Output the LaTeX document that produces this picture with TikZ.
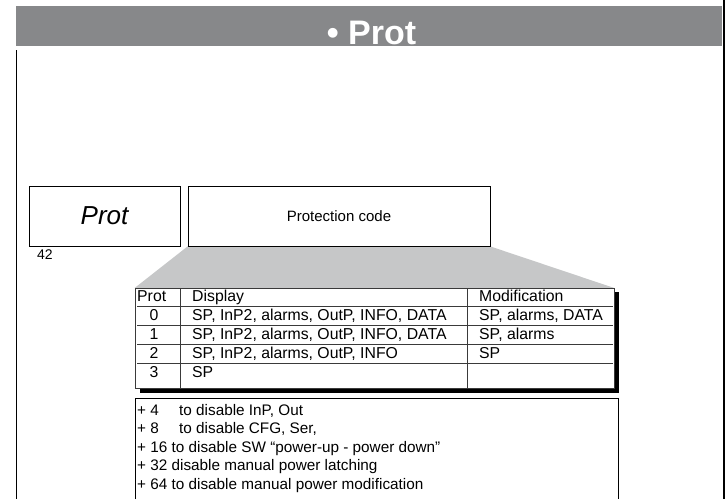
\documentclass[tikz,border=0pt]{standalone}
\usepackage{fontspec}
\setmainfont{Liberation Sans}
\usetikzlibrary{backgrounds}
\definecolor{hdrgray}{HTML}{87888A}
\definecolor{fangray}{HTML}{C6C7C8}
\definecolor{linegray}{HTML}{3A3A3A}
\begin{document}
\begin{tikzpicture}[x=1pt,y=-1pt,
  frame/.style={draw=black, line width=0.9pt, inner sep=0pt},
  tbltext/.style={font=\fontsize{15.8}{18}\selectfont, anchor=base west, inner sep=0pt},
  tblnum/.style={font=\fontsize{15.8}{18}\selectfont, anchor=base, inner sep=0pt},
  notetext/.style={font=\fontsize{15.3}{18}\selectfont, anchor=base west, inner sep=0pt},
  rule/.style={draw=linegray, line width=0.8pt}]
\useasboundingbox (0,0) rectangle (725,499);
% header band
\fill[hdrgray] (16,6) rectangle (722,46);
\node[font=\bfseries\fontsize{34}{36}\selectfont, text=white, anchor=base, inner sep=0pt] (title) at (371.5,44) {• Prot};
% page borders
\fill[black] (722.7,0) rectangle (725,499);
\draw[line width=0.9pt] (16.5,50) -- (16.5,499);
% parameter boxes
\node[frame, minimum width=151pt, minimum height=60pt, font=\itshape\fontsize{26}{28}\selectfont] (prot) at (104.5,216) {Prot};
\node[frame, minimum width=302pt, minimum height=60pt, font=\fontsize{15}{18}\selectfont] (pc) at (339,216) {Protection code};
\node[anchor=base west, inner sep=0pt, font=\fontsize{14}{16}\selectfont] (num) at (37,259) {42};
% table
\node[draw=linegray, line width=0.9pt, fill=white, minimum width=479pt, minimum height=100pt, inner sep=0pt] (tbl) at (374.5,338.5) {};
\begin{scope}[on background layer]
\fill[fangray] (pc.south west) -- (pc.south east) -- (tbl.north east) -- (tbl.north west) -- cycle;
\fill[black] ([xshift=5pt,yshift=-4pt]tbl.south west) rectangle ([xshift=5pt,yshift=-4pt]tbl.north east);
\end{scope}
\draw[rule] (180,288.5) -- (180,388.5);
\draw[rule] (467.5,288.5) -- (467.5,388.5);
\foreach \yy in {306,325,344,363} \draw[rule] (137,\yy) -- (613,\yy);
\node[tbltext] (h1) at (137,301) {Prot};
\node[tbltext] (h2) at (192,301) {Display};
\node[tbltext] (h3) at (479,301) {Modification};
\node[tblnum] (r0) at (154,320) {0};
\node[tblnum] (r1) at (154,339) {1};
\node[tblnum] (r2) at (154,358) {2};
\node[tblnum] (r3) at (154,377) {3};
\node[tbltext] (d0) at (192,320) {SP, InP2, alarms, OutP, INFO, DATA};
\node[tbltext] (d1) at (192,339) {SP, InP2, alarms, OutP, INFO, DATA};
\node[tbltext] (d2) at (192,358) {SP, InP2, alarms, OutP, INFO};
\node[tbltext] (d3) at (192,377) {SP};
\node[tbltext] (m0) at (479,320) {SP, alarms, DATA};
\node[tbltext] (m1) at (479,339) {SP, alarms};
\node[tbltext] (m2) at (479,358) {SP};
% notes box
\draw[line width=0.9pt] (135,499) -- (135,398) -- (618,398) -- (618,499);
\node[notetext] (n1a) at (137,415) {+ 4};
\node[notetext] (n1b) at (179,415) {to disable InP, Out};
\node[notetext] (n2a) at (137,433.5) {+ 8};
\node[notetext] (n2b) at (179,433.5) {to disable CFG, Ser,};
\node[notetext] (n3) at (137,452) {+ 16 to disable SW “power-up - power down”};
\node[notetext] (n4) at (137,470.5) {+ 32 disable manual power latching};
\node[notetext] (n5) at (137,489) {+ 64 to disable manual power modification};
\end{tikzpicture}
\end{document}
